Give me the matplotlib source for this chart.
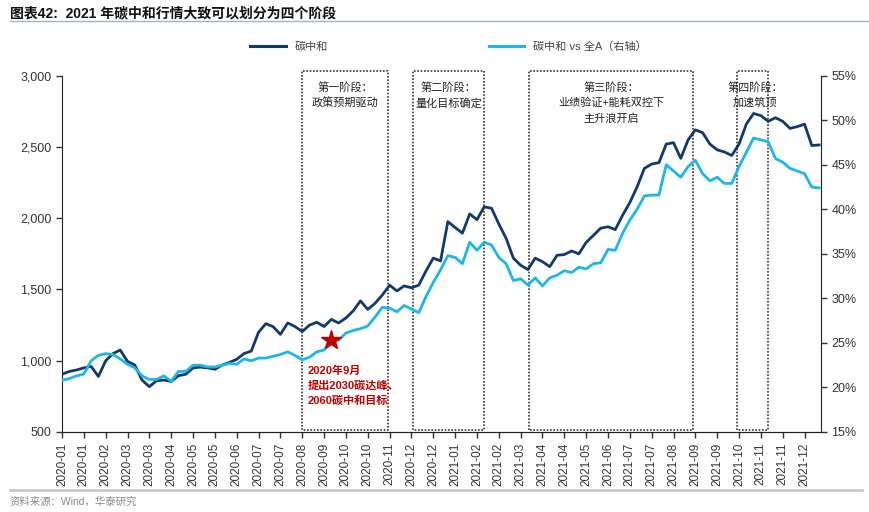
import numpy as np
import matplotlib
matplotlib.use("Agg")
import matplotlib.pyplot as plt
from matplotlib.lines import Line2D
from matplotlib.ticker import FuncFormatter

plt.rcParams['font.family'] = ['Liberation Sans', 'Noto Sans CJK SC', 'DejaVu Sans']

# x tick labels, one every 3 samples
tick_labels = ['2020-01', '2020-01', '2020-02', '2020-03', '2020-03', '2020-04', '2020-05',
               '2020-05', '2020-06', '2020-07', '2020-07', '2020-08', '2020-09', '2020-10',
               '2020-10', '2020-11', '2020-12', '2020-12', '2021-01', '2021-02', '2021-02',
               '2021-03', '2021-04', '2021-04', '2021-05', '2021-06', '2021-07', '2021-07',
               '2021-08', '2021-09', '2021-09', '2021-10', '2021-11', '2021-11', '2021-12']

# 碳中和 index (left axis)
carbon = [905, 925, 935, 950, 960, 890, 1000, 1050, 1075, 995,
          970, 864, 818, 860, 864, 855, 895, 905, 950, 955,
          950, 940, 970, 988, 1010, 1050, 1068, 1200, 1260, 1239,
          1185, 1265, 1240, 1205, 1250, 1270, 1240, 1290, 1265, 1300,
          1350, 1420, 1360, 1403, 1461, 1530, 1490, 1525, 1512, 1530,
          1630, 1720, 1700, 1976, 1935, 1895, 2030, 1990, 2080, 2070,
          1960, 1860, 1720, 1670, 1640, 1720, 1695, 1660, 1740, 1745,
          1770, 1750, 1830, 1880, 1930, 1940, 1920, 2020, 2110, 2220,
          2350, 2380, 2390, 2520, 2530, 2420, 2549, 2620, 2600, 2520,
          2480, 2465, 2440, 2520, 2660, 2735, 2720, 2680, 2705, 2680,
          2630, 2643, 2660, 2510, 2514]

# 碳中和 vs 全A, % (right axis)
relative = [20.8, 21.0, 21.3, 21.5, 23.0, 23.6, 23.8, 23.7, 23.2, 22.6,
            22.2, 21.3, 20.9, 20.9, 21.3, 20.7, 21.8, 21.8, 22.5, 22.5,
            22.3, 22.3, 22.5, 22.7, 22.6, 23.2, 23.0, 23.3, 23.3, 23.5,
            23.7, 24.0, 23.6, 23.1, 23.4, 24.0, 24.2, 25.3, 25.3, 26.1,
            26.4, 26.6, 26.9, 27.9, 29.0, 28.9, 28.5, 29.2, 28.8, 28.4,
            30.2, 31.8, 33.2, 34.8, 34.6, 33.9, 36.3, 35.4, 36.3, 36.0,
            34.6, 33.9, 32.0, 32.2, 31.5, 32.3, 31.4, 32.3, 32.6, 33.1,
            32.9, 33.5, 33.3, 33.9, 34.0, 35.5, 35.4, 37.3, 38.8, 40.0,
            41.5, 41.6, 41.6, 45.0, 44.3, 43.6, 44.8, 45.5, 44.0, 43.2,
            43.6, 42.9, 42.9, 44.8, 46.4, 48.0, 47.8, 47.6, 45.7, 45.3,
            44.6, 44.3, 44.0, 42.5, 42.4]

# phase boxes (sample index ranges) and their labels
phase_ranges = [(33.0, 44.8), (48.2, 58.0), (64.1, 86.7), (92.7, 97.0)]
phase_texts = ['第一阶段：\n政策预期驱动', '第二阶段：\n量化目标确定',
               '第三阶段：\n业绩验证+能耗双控下\n主升浪开启', '第四阶段：\n加速筑顶']
phase_text_x = [38.9, 53.1, 75.4, 95.2]

star_index = 37
star_note = '2020年9月\n提出2030碳达峰、\n2060碳中和目标'

dark = '#12396B'
light = '#1DB6E8'

fig = plt.figure(figsize=(8.7, 5.12), dpi=100)
W, H = 870, 512
ax = fig.add_axes([62 / W, 1 - 432 / H, (821 - 62) / W, (432 - 75.7) / H])
ax2 = ax.twinx()

x = np.arange(len(carbon))
ax.plot(x, carbon, color=dark, lw=2.0, zorder=3)
ax2.plot(x, relative, color=light, lw=2.0, zorder=2)

ax.set_ylim(500, 3000)
ax.set_yticks(range(500, 3001, 500))
ax.yaxis.set_major_formatter(FuncFormatter(lambda v, p: f'{int(v):,}'))
ax2.set_ylim(15, 55)
ax2.set_yticks(range(15, 56, 5))
ax2.yaxis.set_major_formatter(FuncFormatter(lambda v, p: f'{int(v)}%'))
ax.set_xlim(0, 104.26)
ax.set_xticks(range(0, 3 * len(tick_labels), 3))
ax.set_xticklabels(tick_labels, rotation=90)

for a in (ax, ax2):
    a.spines['top'].set_visible(False)
    a.tick_params(labelsize=9, colors='#333333', length=4, width=1)
    for s in a.spines.values():
        s.set_color('#222222')
ax.tick_params(axis='x', labelsize=8.5)
ax2.spines['left'].set_visible(False)
ax.spines['right'].set_visible(False)

# dotted phase boxes
for (x0, x1), txt, tx in zip(phase_ranges, phase_texts, phase_text_x):
    ax.plot([x0, x0, x1, x1, x0], [515, 3033, 3033, 515, 515], color='#333333',
            lw=1.2, ls=(0, (1, 1)), clip_on=False, zorder=4)
    ax.text(tx, 2960, txt, ha='center', va='top', fontsize=8, linespacing=1.6,
            family=['Noto Sans CJK SC', 'DejaVu Sans'], color='#222222', zorder=5)

# policy star and note
ax2.plot(star_index, relative[star_index], marker='*', color='#C00000',
         markersize=15, zorder=6)
ax.text(33.8, 965, star_note, ha='left', va='top', fontsize=8, color='#C00000',
        fontweight='bold', linespacing=1.55, zorder=6)

# legend
handles = [Line2D([], [], color=dark, lw=2.2), Line2D([], [], color=light, lw=2.2)]
fig.legend(handles, ['碳中和', '碳中和 vs 全A（右轴）'], loc='center left',
           bbox_to_anchor=(250 / W, 1 - 47 / H), ncol=2, frameon=False,
           fontsize=8, handlelength=3.2, columnspacing=14.5, borderpad=0,
           borderaxespad=0, labelcolor='#444444')

# title, rules, source
fig.text(10 / W, 1 - 13 / H, '图表42:  2021 年碳中和行情大致可以划分为四个阶段',
         ha='left', va='center', fontsize=10, fontweight='bold', color='#111111')
fig.add_artist(Line2D([10 / W, 868 / W], [1 - 21 / H, 1 - 21 / H], color='#9FB2CC', lw=1))
fig.add_artist(Line2D([10 / W, 862 / W], [1 - 490 / H, 1 - 490 / H], color='#C8C8C8', lw=2))
fig.text(10 / W, 1 - 502 / H, '资料来源：Wind，华泰研究', ha='left', va='center',
         fontsize=7.5, color='#8A8A8A')

fig.savefig('out.png', dpi=100)
